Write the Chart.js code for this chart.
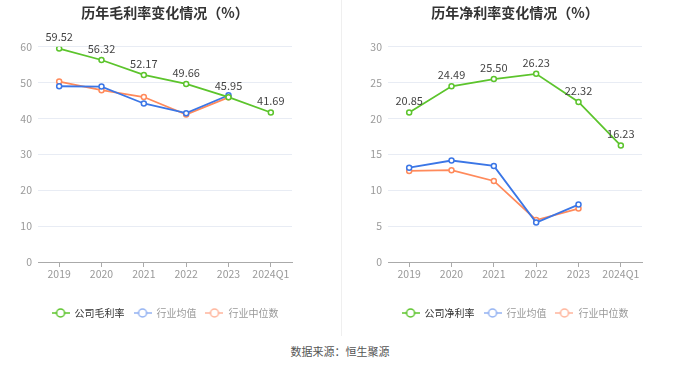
<!DOCTYPE html>
<html>
<head>
<meta charset="utf-8">
<script src="https://cdn.jsdelivr.net/npm/chart.js@4/dist/chart.umd.min.js"></script>
<style>
body{margin:0;background:#fff;width:680px;height:367px;overflow:hidden;position:relative;font-family:"Noto Sans CJK SC",sans-serif}
.box{position:absolute;top:0;width:340px;height:335px}
#left{left:0}
#right{left:340px}
#divider{position:absolute;left:341px;top:0;width:1px;height:336px;background:#efefef}
#source{position:absolute;top:343px;left:0;width:680px;text-align:center;font-size:11px;color:#555;line-height:16px}
</style>
</head>
<body>
<div class="box" id="left"><canvas id="grossChart"></canvas></div>
<div class="box" id="right"><canvas id="netChart"></canvas></div>
<div id="divider"></div>
<div id="source">数据来源：恒生聚源</div>
<script>
var years = ['2019', '2020', '2021', '2022', '2023', '2024Q1'];

var grossCompany = [59.52, 56.32, 52.17, 49.66, 45.95, 41.69];
var grossIndustryAvg = [49.0, 48.9, 44.2, 41.5, 46.5, null];
var grossIndustryMedian = [50.3, 47.9, 46.0, 41.1, 45.9, null];

var netCompany = [20.85, 24.49, 25.50, 26.23, 22.32, 16.23];
var netIndustryAvg = [13.15, 14.15, 13.4, 5.5, 8.0, null];
var netIndustryMedian = [12.7, 12.8, 11.3, 5.85, 7.45, null];

var fontFamily = '"Noto Sans CJK SC", sans-serif';
var green = '#5cc42c';
var blue = '#3b76e6';
var orange = '#ff8a5b';

//legend icon: short line with a hollow circle in the middle
function makeIcon(color) {
	var c = document.createElement('canvas');
	c.width = 18;
	c.height = 10;
	var g = c.getContext('2d');
	g.strokeStyle = color;
	g.lineWidth = 1.5;
	g.beginPath();
	g.moveTo(0, 5);
	g.lineTo(18, 5);
	g.stroke();
	g.beginPath();
	g.arc(9, 5, 4, 0, Math.PI * 2);
	g.fillStyle = '#fff';
	g.fill();
	g.stroke();
	return c;
}

var legendIcons = [makeIcon(green), makeIcon('#93b2f2'), makeIcon('#ffb59c')];
var legendColors = ['#333', '#999', '#999'];

//numbers above the company line
var valueLabels = {
	id: 'valueLabels',
	afterDatasetsDraw(chart) {
		var ctx = chart.ctx;
		var meta = chart.getDatasetMeta(0);
		ctx.save();
		ctx.font = '11px ' + fontFamily;
		ctx.fillStyle = '#444';
		ctx.textAlign = 'center';
		ctx.textBaseline = 'bottom';
		meta.data.forEach((pt, i) => {
			ctx.fillText(chart.data.datasets[0].data[i].toFixed(2), pt.x, pt.y - 6);
		});
		ctx.restore();
	}
};

function lineSet(label, data, color) {
	return {
		label: label,
		data: data,
		borderColor: color,
		backgroundColor: '#fff',
		borderWidth: 1.8,
		pointRadius: 2.5,
		pointBorderWidth: 1.5,
		pointBackgroundColor: '#fff',
		pointBorderColor: color,
		tension: 0,
		spanGaps: false
	};
}

function makeChart(el, title, names, series, yMax, yStep, axisWidth, padLeft, padRight) {
	return new Chart(document.getElementById(el).getContext('2d'), {
		type: 'line',
		data: {
			labels: years,
			datasets: [
				lineSet(names[0], series[0], green),
				lineSet(names[1], series[1], blue),
				lineSet(names[2], series[2], orange)
			]
		},
		options: {
			responsive: true,
			maintainAspectRatio: false,
			animation: false,
			layout: {
				padding: {left: padLeft, right: padRight, top: 0, bottom: 7}
			},
			plugins: {
				title: {
					display: true,
					text: title,
					fullSize: false,
					color: '#333',
					font: {family: fontFamily, size: 14, weight: 'bold'},
					padding: {top: 4, bottom: 26}
				},
				legend: {
					position: 'bottom',
					fullSize: false,
					labels: {
						usePointStyle: true,
						pointStyleWidth: 18,
						padding: 9,
						font: {family: fontFamily, size: 10},
						generateLabels: chart => chart.data.datasets.map((ds, i) => ({
							text: ds.label,
							pointStyle: legendIcons[i],
							fontColor: legendColors[i],
							datasetIndex: i,
							hidden: false,
							lineWidth: 0,
							strokeStyle: 'transparent',
							fillStyle: 'transparent'
						}))
					}
				},
				tooltip: {enabled: false}
			},
			scales: {
				x: {
					offset: true,
					grid: {
						display: true,
						drawOnChartArea: false,
						drawTicks: true,
						tickLength: 5,
						offset: false,
						color: '#aaa'
					},
					border: {color: '#aaa'},
					ticks: {
						color: '#999',
						padding: 1,
						maxRotation: 0,
						autoSkip: false,
						font: {family: fontFamily, size: 10.5}
					},
					afterFit: scale => { scale.height = 37; }
				},
				y: {
					min: 0,
					max: yMax,
					border: {display: false},
					grid: {color: '#e8ecf4', drawTicks: false},
					ticks: {
						stepSize: yStep,
						color: '#999',
						padding: 6,
						font: {family: fontFamily, size: 10.5}
					},
					afterFit: scale => { scale.width = axisWidth; }
				}
			}
		},
		plugins: [valueLabels]
	});
}

makeChart('grossChart', '历年毛利率变化情况（%）', ['公司毛利率', '行业均值', '行业中位数'],
	[grossCompany, grossIndustryAvg, grossIndustryMedian], 60, 10, 38, 0, 48);
makeChart('netChart', '历年净利率变化情况（%）', ['公司净利率', '行业均值', '行业中位数'],
	[netCompany, netIndustryAvg, netIndustryMedian], 30, 5, 38, 10, 38);
</script>
</body>
</html>
